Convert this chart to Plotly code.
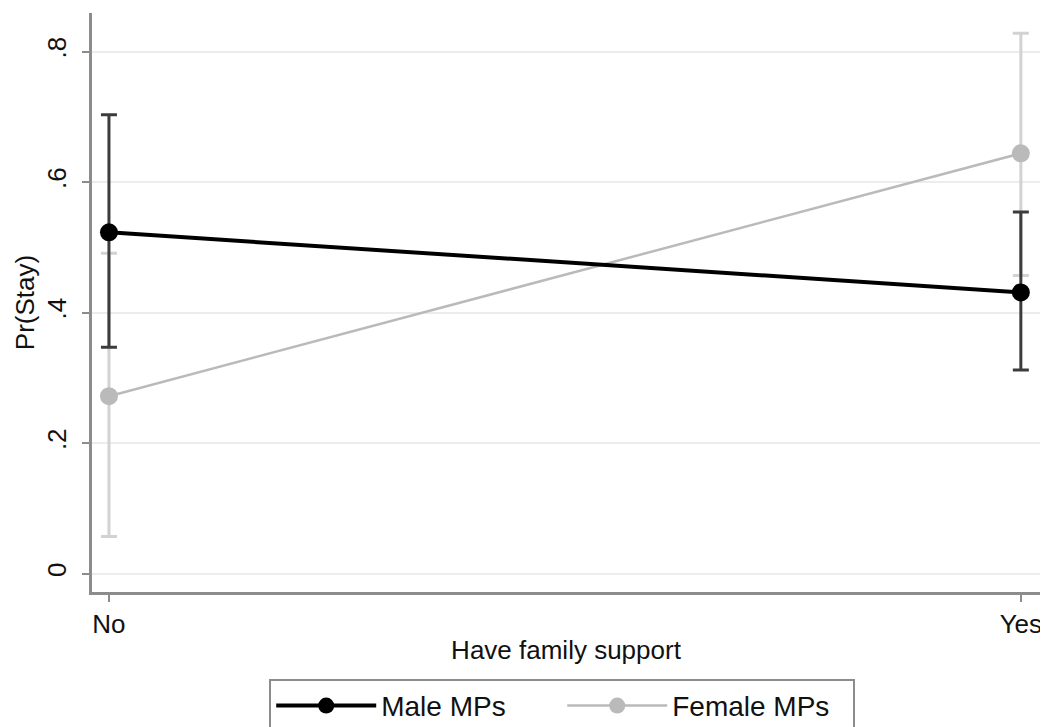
import plotly.graph_objects as go

categories = ["No", "Yes"]
x_pos = [0, 1]

male_est = [0.523, 0.431]
male_hi = [0.703, 0.554]
male_lo = [0.347, 0.312]

female_est = [0.272, 0.644]
female_hi = [0.491, 0.828]
female_lo = [0.057, 0.457]

y_ticks = [0, 0.2, 0.4, 0.6, 0.8]
y_tick_text = ["0", ".2", ".4", ".6", ".8"]

FONT = "Liberation Sans, Arial, sans-serif"
FS = 26

fig = go.Figure()

fig.add_trace(go.Scatter(
    x=x_pos, y=female_est, mode="lines+markers", name="Female MPs",
    line=dict(color="#bababa", width=2.5),
    marker=dict(color="#bababa", size=18),
    error_y=dict(type="data", symmetric=False,
                 array=[h - e for h, e in zip(female_hi, female_est)],
                 arrayminus=[e - l for e, l in zip(female_est, female_lo)],
                 color="#d2d2d2", thickness=3, width=8),
    legendrank=2,
))

fig.add_trace(go.Scatter(
    x=x_pos, y=male_est, mode="lines+markers", name="Male MPs",
    line=dict(color="#000000", width=4),
    marker=dict(color="#000000", size=18),
    error_y=dict(type="data", symmetric=False,
                 array=[h - e for h, e in zip(male_hi, male_est)],
                 arrayminus=[e - l for e, l in zip(male_est, male_lo)],
                 color="#3c3c3c", thickness=3, width=8),
    legendrank=1,
))

fig.update_layout(
    width=1048, height=727,
    margin=dict(l=84, r=16, t=5, b=143, autoexpand=False),
    paper_bgcolor="white", plot_bgcolor="white",
    font=dict(family=FONT, size=FS, color="#111111"),
    showlegend=True,
    legend=dict(
        orientation="h", x=0.496, xanchor="center", y=-0.150, yanchor="top",
        bordercolor="#8c8c8c", borderwidth=2, bgcolor="white",
        font=dict(size=28), itemwidth=100, traceorder="normal",
        entrywidth=176, entrywidthmode="pixels",
    ),
    xaxis=dict(
        range=[-0.0186, 1.021], tickvals=x_pos, ticktext=categories,
        showgrid=False, zeroline=False,
        showline=True, linecolor="#8c8c8c", linewidth=3,
        ticks="outside", ticklen=7, tickcolor="#8c8c8c", tickwidth=2,
        ticklabelstandoff=0,
        title=dict(text="Have family support", standoff=3, font=dict(size=FS)),
        tickfont=dict(size=FS),
        automargin=False,
    ),
    yaxis=dict(
        range=[-0.028, 0.859], tickvals=y_ticks, ticktext=y_tick_text,
        tickangle=-90,
        showgrid=True, gridcolor="#ececec", gridwidth=2, zeroline=False,
        showline=True, linecolor="#8c8c8c", linewidth=3,
        ticks="outside", ticklen=7, tickcolor="#8c8c8c", tickwidth=2,
        ticklabelstandoff=6,
        title=dict(text="Pr(Stay)", standoff=0, font=dict(size=FS)),
        tickfont=dict(size=FS),
        automargin=True,
    ),
)

fig.write_html("out.html")
